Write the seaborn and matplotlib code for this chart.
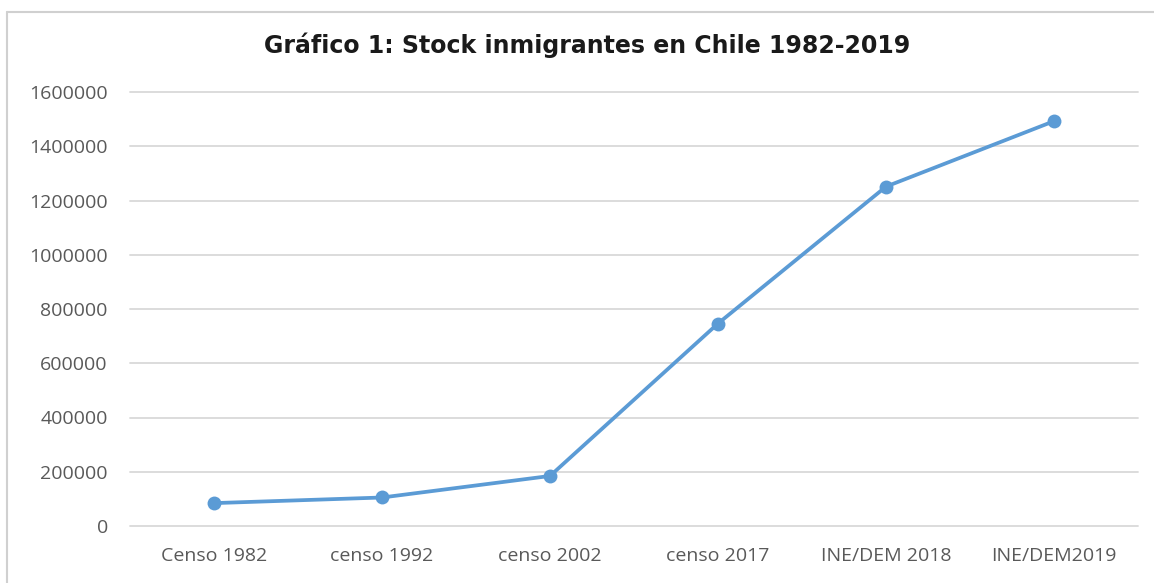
import matplotlib
matplotlib.use("Agg")
import matplotlib.pyplot as plt
from matplotlib.lines import Line2D
import seaborn as sns
import pandas as pd

# Immigrant stock in Chile by source
categories = ["Censo 1982", "censo 1992", "censo 2002", "censo 2017", "INE/DEM 2018", "INE/DEM2019"]
stock = [84345, 105070, 184464, 746465, 1251225, 1492522]
yticks = [0, 200000, 400000, 600000, 800000, 1000000, 1200000, 1400000, 1600000]

df = pd.DataFrame({"fuente": categories, "stock": stock})

sns.set_theme(style="white")
plt.rcParams["font.family"] = ["Open Sans", "DejaVu Sans"]

fig = plt.figure(figsize=(11.54, 5.83), dpi=100)
ax = fig.add_axes([130 / 1154, 1 - 526 / 583, (1138 - 130) / 1154, (526 - 92) / 583])

line_color = "#5b9bd5"
sns.lineplot(data=df, x="fuente", y="stock", ax=ax, color=line_color,
             linewidth=2.7, marker="o", markersize=10, markeredgewidth=0,
             sort=False)

ax.set_xlim(-0.5, len(categories) - 0.5)
ax.set_ylim(0, 1600000)
ax.set_yticks(yticks)
ax.set_yticklabels([str(v) for v in yticks])
ax.set_xlabel("")
ax.set_ylabel("")

ax.grid(axis="y", color="#d9d9d9", linewidth=1.3)
for gl in ax.get_ygridlines():
    gl.set_clip_on(False)
ax.set_axisbelow(True)
for side in ["top", "right", "left", "bottom"]:
    ax.spines[side].set_visible(False)
ax.tick_params(axis="both", length=0, labelsize=14, colors="#595959")
ax.tick_params(axis="y", pad=16)
ax.tick_params(axis="x", pad=15)

fig.text(587 / 1154, 1 - 45 / 583, "Gráfico 1: Stock inmigrantes en Chile 1982-2019",
         ha="center", va="center", fontsize=17, fontweight="bold",
         color="#1a1a1a", family=["DejaVu Sans"])

# Chart frame: top and left edges
fig.add_artist(Line2D([7 / 1154, 1.0], [1 - 12 / 583, 1 - 12 / 583],
                      transform=fig.transFigure, color="#d0d0d0", linewidth=1.5))
fig.add_artist(Line2D([7 / 1154, 7 / 1154], [0.0, 1 - 12 / 583],
                      transform=fig.transFigure, color="#d0d0d0", linewidth=1.5))

fig.savefig("out.png", dpi=100, facecolor="white")
